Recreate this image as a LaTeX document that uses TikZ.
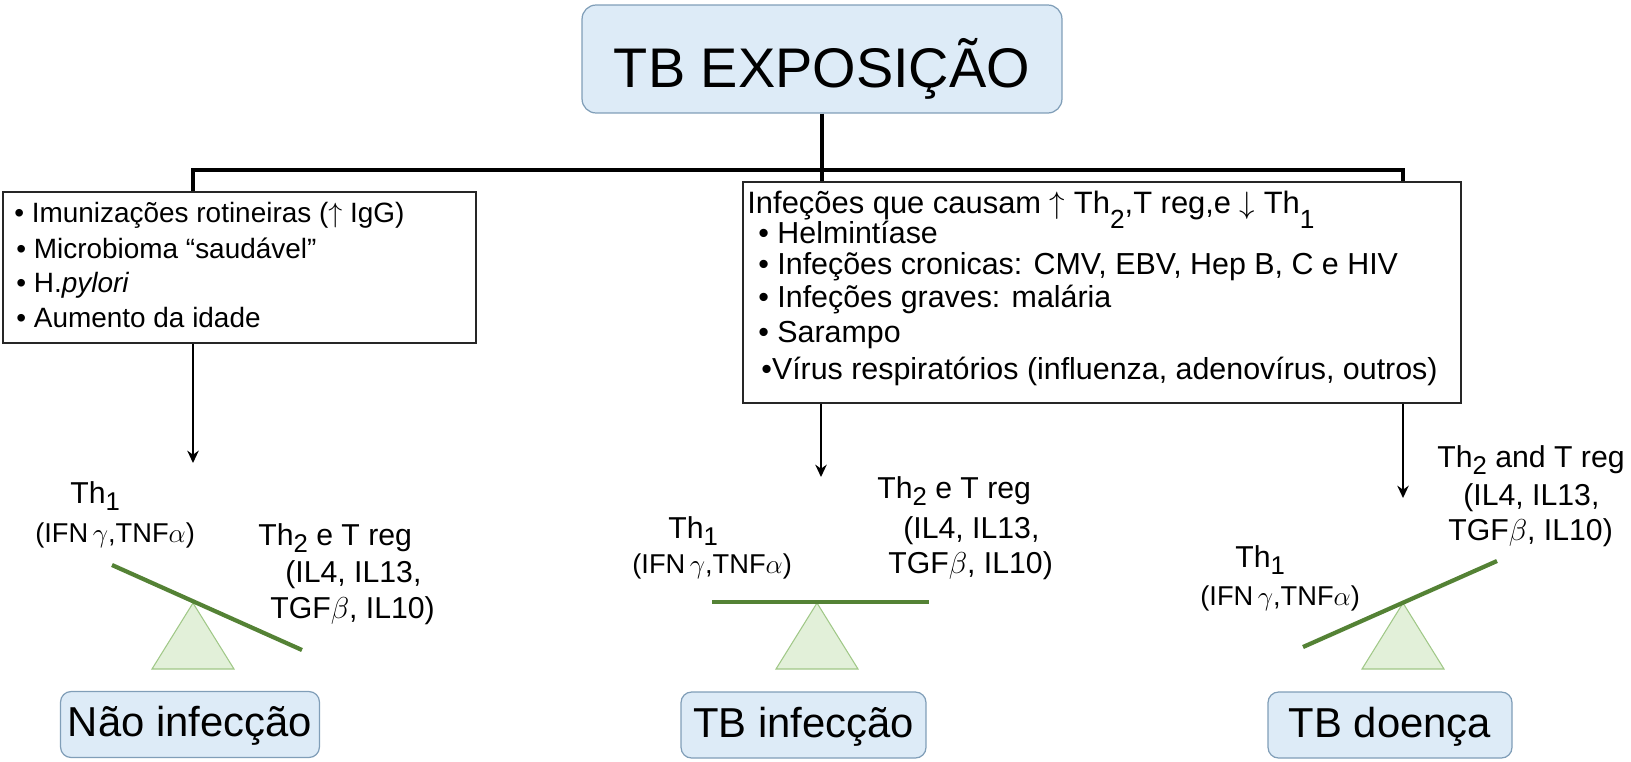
\RequirePackage{fix-cm}
\documentclass[tikz,border=0pt]{standalone}
\usepackage{fontspec}
\setmainfont{Liberation Sans}
\usetikzlibrary{arrows.meta}
\definecolor{boxfill}{RGB}{221,235,247}
\definecolor{boxedge}{RGB}{128,158,184}
\definecolor{beamgreen}{RGB}{84,130,53}
\definecolor{fulcfill}{RGB}{226,240,217}
\definecolor{fulcedge}{RGB}{160,200,135}
\newcommand{\lowsub}[2][0.25em]{\raisebox{-#1}{\scalebox{0.85}{#2}}}

\begin{document}
\begin{tikzpicture}[
    x=0.02cm,
    y=-0.02cm,
    bluebox/.style={rectangle, rounded corners=6pt, draw=boxedge, fill=boxfill, line width=0.7pt, inner sep=0pt},
    outbox/.style={bluebox, minimum height=1.32cm, font=\fontsize{23.8}{28}\selectfont, text height=17pt, text depth=3pt},
    listbox/.style={rectangle, draw=black!85, line width=0.7pt, inner sep=0pt},
    trunk/.style={draw=black, line width=1.9pt},
    arr/.style={draw=black, line width=1.5pt, -{Stealth[length=7pt, width=6.5pt]}},
    beam/.style={draw=beamgreen, line width=2.4pt},
    fulcrum/.style={draw=fulcedge, fill=fulcfill, line width=0.6pt},
    item/.style={anchor=base west, inner sep=0pt},
    lbl/.style={anchor=base west, inner sep=0pt, font=\fontsize{17.2}{20}\selectfont},
    cyt/.style={anchor=base west, inner sep=0pt, font=\fontsize{15.5}{18}\selectfont}
]
\useasboundingbox (0,0) rectangle (1631,761);

% top box
\node[bluebox, rounded corners=8pt, minimum width=9.6cm, minimum height=2.16cm,
      font=\fontsize{31.8}{36}\selectfont, text height=33pt, text depth=0pt] (expo) at (822,59) {TB EXPOSIÇÃO};

% lists
\node[listbox, minimum width=9.46cm, minimum height=3.02cm] (lbox) at (239.5,267.5) {};
\node[listbox, minimum width=14.36cm, minimum height=4.42cm] (rbox) at (1102,292.5) {};

\foreach \x/\y/\t [count=\i] in {14/222/{Imunizações rotineiras ($\uparrow$ IgG)}, 16/258/{Microbioma “saudável”},
        16/292/{H.\textit{pylori}}, 16/327/{Aumento da idade}}
    \node[item, font=\fontsize{15.9}{18}\selectfont] (li\i) at (\x,\y) {• \t};

\node[item, font=\fontsize{17.6}{20}\selectfont] (rhead) at (747,213)
    {Infeções que causam $\uparrow$ Th\lowsub[0.5em]{2},T reg,e $\downarrow$ Th\lowsub[0.5em]{1}};
\foreach \x/\y/\t [count=\i] in {758/243/{• Helmintíase}, 758/274/{• Infeções cronicas: CMV, EBV, Hep B, C e HIV},
        758/307/{• Infeções graves: malária}, 758/342/{• Sarampo},
        761/379/{•Vírus respiratórios (influenza, adenovírus, outros)}}
    \node[item, font=\fontsize{17.3}{20}\selectfont] (ri\i) at (\x,\y) {\t};

% connectors
\coordinate (jl) at (193,170);
\coordinate (jr) at (1403,170);
\draw[trunk] (expo.south) -- (expo.south |- rbox.north);
\draw[trunk] (jl |- lbox.north) -- (jl) -- (jr) -- (jr |- rbox.north);

\coordinate (tipl) at (193,463);
\coordinate (tipm) at (821,477);
\coordinate (tipr) at (1403,498);
\draw[arr] (jl |- lbox.south) -- (tipl);
\draw[arr] (tipm |- rbox.south) -- (tipm);
\draw[arr] (jr |- rbox.south) -- (tipr);

% balances
\foreach \c in {193,817,1403}
    \draw[fulcrum] (\c,603) -- ++(41,66) -- ++(-82,0) -- cycle;
\draw[beam] (112,565) -- (302,650);
\draw[beam] (712,602) -- (929,602);
\draw[beam] (1303,647) -- (1497,561);

% left balance
\node[lbl] (th1a) at (70,503) {Th\lowsub{1}};
\node[cyt] (cya) at (35,542) {(IFN\,$\gamma$,TNF$\alpha$)};
\node[lbl] (th2a) at (258,545) {Th\lowsub{2} e T reg};
\node[lbl] (ila) at (285,582) {(IL4, IL13,};
\node[lbl] (tga) at (270,618) {TGF$\beta$, IL10)};

% middle balance
\node[lbl] (th1b) at (668,538) {Th\lowsub{1}};
\node[cyt] (cyb) at (632,573) {(IFN\,$\gamma$,TNF$\alpha$)};
\node[lbl] (th2b) at (877,498) {Th\lowsub{2} e T reg};
\node[lbl] (ilb) at (903,538) {(IL4, IL13,};
\node[lbl] (tgb) at (888,573) {TGF$\beta$, IL10)};

% right balance
\node[lbl] (th1c) at (1235,567) {Th\lowsub{1}};
\node[cyt] (cyc) at (1200,605) {(IFN\,$\gamma$,TNF$\alpha$)};
\node[lbl] (th2c) at (1437,467) {Th\lowsub{2} and T reg};
\node[lbl] (ilc) at (1463,505) {(IL4, IL13,};
\node[lbl] (tgc) at (1448,540) {TGF$\beta$, IL10)};

% outcomes
\node[outbox, minimum width=5.18cm] (nao) at (190,724.5) {Não infecção};
\node[outbox, minimum width=4.9cm] (infec) at (803.5,725) {TB infecção};
\node[outbox, minimum width=4.88cm] (doenca) at (1390,725) {TB doença};
\end{tikzpicture}
\end{document}
